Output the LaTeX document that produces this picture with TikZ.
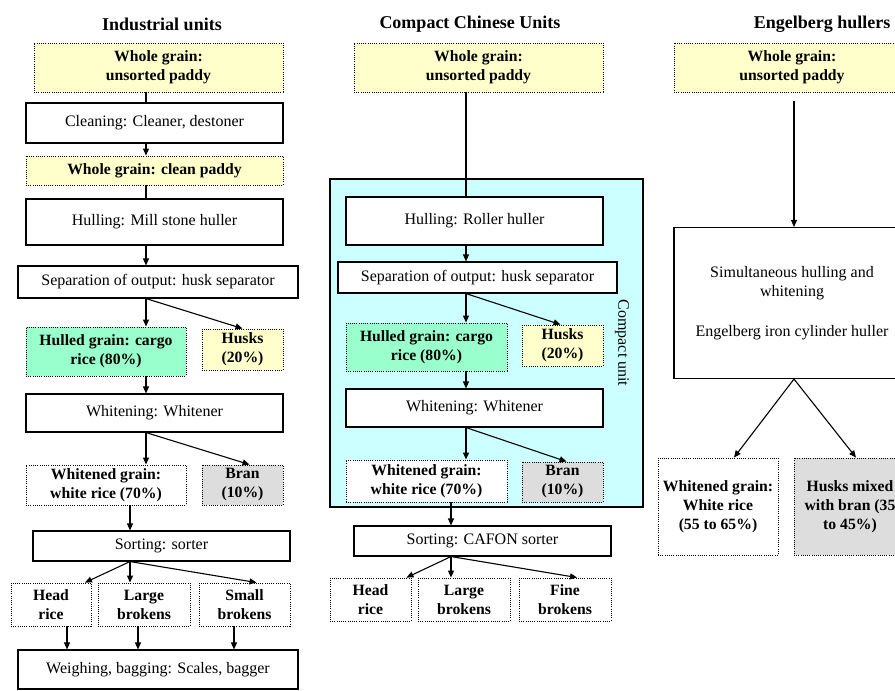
\documentclass[tikz,border=0pt]{standalone}
\usepackage{fontspec}
\setmainfont{Liberation Serif}
\usetikzlibrary{arrows.meta,positioning}
\definecolor{paddy}{HTML}{FFFFCC}
\definecolor{cargo}{HTML}{99FFCC}
\definecolor{branfill}{HTML}{DDDDDD}
\definecolor{unitfill}{HTML}{CCFFFF}

\begin{document}
\begin{tikzpicture}[x=1pt,y=-1pt,>={Triangle[length=7pt,width=6pt]},
proc/.style={draw,line width=1.1pt,fill=white,inner sep=0pt,align=center,
font=\fontsize{16}{19}\selectfont},
grain/.style={draw,line width=0.9pt,dash pattern=on 1pt off 1.2pt,fill=paddy,
inner sep=0pt,align=center,font=\fontsize{15.7}{19}\selectfont\bfseries},
head/.style={font=\fontsize{18}{22}\selectfont\bfseries},
dims/.style 2 args={minimum width=#1pt,minimum height=#2pt},
flow/.style={->,line width=1.1pt},
link/.style={line width=1.1pt}]
\useasboundingbox (0,0) rectangle (895,691);
\clip (0,0) rectangle (895,691);
\node[head] (tInd) at (162,24) {Industrial units};
\node[head] (tCom) at (470,24) {Compact Chinese Units};
\node[head,anchor=east] (tEng) at (894,24) {Engelberg hullers};

\node[grain,dims={249}{49}] (lRaw) at (158.5,67.5) {Whole grain:\\unsorted paddy};
\node[proc,dims={257}{40}] (lClean) at (154.5,123) {Cleaning: Cleaner, destoner};
\node[grain,dims={257}{29}] (lPaddy) at (154.5,170.5) {Whole grain: clean paddy};
\node[proc,dims={257}{46}] (lHull) at (154.5,222) {Hulling: Mill stone huller};
\node[proc,dims={280}{32}] (lSep) at (158,282) {Separation of output: husk separator};
\node[grain,fill=cargo,dims={160}{49}] (lCargo) at (106,351.5) {Hulled grain: cargo\\rice (80\%)};
\node[grain,dims={81}{41}] (lHusk) at (242.5,349.5) {Husks\\(20\%)};
\node[proc,dims={257}{38}] (lWhite) at (154.5,413) {Whitening: Whitener};
\node[grain,fill=white,dims={160}{40}] (lRice) at (106,485) {Whitened grain:\\white rice (70\%)};
\node[grain,fill=branfill,dims={81}{40}] (lBran) at (242.5,485) {Bran\\(10\%)};
\node[proc,dims={257}{30}] (lSort) at (161.5,546) {Sorting: sorter};
\node[grain,fill=white,dims={80}{43}] (lHead) at (51,604.5) {Head\\rice};
\node[grain,fill=white,dims={92}{43}] (lLarge) at (144,604.5) {Large\\brokens};
\node[grain,fill=white,dims={91}{43}] (lSmall) at (244.5,604.5) {Small\\brokens};
\node[proc,dims={280}{39}] (lWeigh) at (158,669.5) {Weighing, bagging: Scales, bagger};

\node[draw,line width=1.1pt,fill=unitfill,dims={313}{328}] (mUnit) at (486.5,343) {};
\node[rotate=-90,font=\fontsize{16}{19}\selectfont] (mUnitLab) at (622,343) {Compact unit};
\node[grain,dims={249}{49}] (mRaw) at (478.5,67.5) {Whole grain:\\unsorted paddy};
\node[proc,dims={257}{48}] (mHull) at (474.5,221) {Hulling: Roller huller};
\node[proc,dims={279}{31}] (mSep) at (477.5,277.5) {Separation of output: husk separator};
\node[grain,fill=cargo,dims={161}{48}] (mCargo) at (426.5,347) {Hulled grain: cargo\\rice (80\%)};
\node[grain,dims={81}{41}] (mHusk) at (562.5,345.5) {Husks\\(20\%)};
\node[proc,dims={257}{38}] (mWhite) at (474.5,408) {Whitening: Whitener};
\node[grain,fill=white,dims={161}{42}] (mRice) at (426.5,481) {Whitened grain:\\white rice (70\%)};
\node[grain,fill=branfill,dims={81}{40}] (mBran) at (562.5,482) {Bran\\(10\%)};
\node[proc,dims={257}{30}] (mSort) at (482.5,541) {Sorting: CAFON sorter};
\node[grain,fill=white,dims={81}{43}] (mHead) at (370.5,599.5) {Head\\rice};
\node[grain,fill=white,dims={92}{43}] (mLarge) at (464,599.5) {Large\\brokens};
\node[grain,fill=white,dims={92}{43}] (mFine) at (565,599.5) {Fine\\brokens};

\node[grain,dims={236}{49}] (rRaw) at (792,67.5) {Whole grain:\\unsorted paddy};
\node[proc,dims={236}{151}] (rMill) at (792,303) {Simultaneous hulling and\\whitening\\[21pt]Engelberg iron cylinder huller};
\node[grain,fill=white,dims={120}{97}] (rRice) at (718,506.5) {Whitened grain:\\White rice\\(55 to 65\%)};
\node[grain,fill=branfill,dims={112}{97}] (rMix) at (850,506.5) {Husks mixed\\with bran (35\\to 45\%)};

\coordinate (lspine) at (146,0);
\coordinate (lspine2) at (130,0);
\coordinate (lx1) at (67,0);
\coordinate (lx2) at (138,0);
\coordinate (lx3) at (234,0);
\coordinate (mspine) at (466,0);
\coordinate (mspine2) at (451,0);
\coordinate (rtop) at (794,101);

\draw[link] (lRaw.south -| lspine)--(lClean.north -| lspine);
\draw[flow] (lClean.south -| lspine)--(lPaddy.north -| lspine);
\draw[link] (lPaddy.south -| lspine)--(lHull.north -| lspine);
\draw[flow] (lHull.south -| lspine)--(lSep.north -| lspine);
\draw[flow] (lSep.south -| lspine)--(lCargo.north -| lspine);
\draw[flow] (lSep.south -| lspine)--(lHusk.north);
\draw[flow] (lCargo.south -| lspine)--(lWhite.north -| lspine);
\draw[flow] (lWhite.south -| lspine)--(lRice.north -| lspine);
\draw[flow] (lWhite.south -| lspine)--([xshift=7pt]lBran.north);
\draw[flow] (lRice.south -| lspine2)--(lSort.north -| lspine2);
\draw[flow] (lSort.south -| lspine2)--([xshift=34pt]lHead.north);
\draw[flow] (lSort.south -| lspine2)--(lLarge.north -| lspine2);
\draw[flow] (lSort.south -| lspine2)--([xshift=12pt]lSmall.north);
\draw[flow] (lHead.south -| lx1)--(lWeigh.north -| lx1);
\draw[flow] (lLarge.south -| lx2)--(lWeigh.north -| lx2);
\draw[flow] (lSmall.south -| lx3)--(lWeigh.north -| lx3);

\draw[link] (mRaw.south -| mspine)--(mHull.north -| mspine);
\draw[flow] (mHull.south -| mspine)--(mSep.north -| mspine);
\draw[flow] (mSep.south -| mspine)--(mCargo.north -| mspine);
\draw[flow] (mSep.south -| mspine)--([xshift=-2pt]mHusk.north);
\draw[flow] (mCargo.south -| mspine)--(mWhite.north -| mspine);
\draw[flow] (mWhite.south -| mspine)--(mRice.north -| mspine);
\draw[flow] (mWhite.south -| mspine)--([xshift=4pt]mBran.north);
\draw[flow] (mRice.south -| mspine2)--(mSort.north -| mspine2);
\draw[flow] (mSort.south -| mspine2)--([xshift=36pt]mHead.north);
\draw[flow] (mSort.south -| mspine2)--(mLarge.north -| mspine2);
\draw[flow] (mSort.south -| mspine2)--([xshift=12pt]mFine.north);

\draw[flow] (rtop)--(rMill.north -| rtop);
\draw[flow] (rMill.south -| rtop)--([xshift=16pt]rRice.north);
\draw[flow] (rMill.south -| rtop)--([xshift=6pt]rMix.north);
\end{tikzpicture}
\end{document}
